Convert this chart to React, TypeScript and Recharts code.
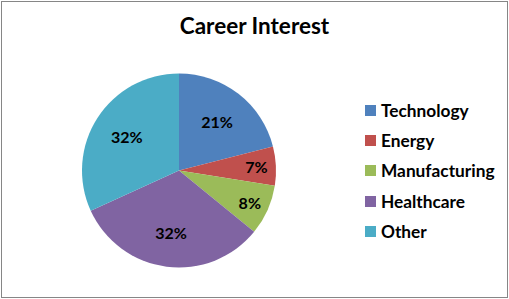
import { Cell, Legend, Pie, PieChart } from 'recharts';

const categories = ['Technology', 'Energy', 'Manufacturing', 'Healthcare', 'Other'];
const shares = [21, 6.5, 8.4, 32.3, 31.8];
const colors = ['#4f81bd', '#c0504d', '#9bbb59', '#8064a2', '#4bacc6'];

const data = categories.map((name, i) => ({ name, value: shares[i] }));

const FONT = 'Lato, "Open Sans", sans-serif';
const RAD = Math.PI / 180;

function renderLabel({ cx, cy, midAngle, outerRadius, percent }: any) {
  // small slices get their label pushed further out, like Excel's best fit
  const r = outerRadius * (percent < 0.1 ? 0.8 : 0.64);
  const x = cx + r * Math.cos(-midAngle * RAD);
  const y = cy + r * Math.sin(-midAngle * RAD);
  return (
    <text
      x={x}
      y={y}
      textAnchor="middle"
      dominantBaseline="central"
      fill="#000"
      fontFamily={FONT}
      fontWeight="bold"
      fontSize={16}
    >
      {`${Math.round(percent * 100)}%`}
    </text>
  );
}

function LegendList({ payload }: any) {
  return (
    <div style={{ fontFamily: FONT }}>
      {(payload || []).map((item: any) => (
        <div key={item.value} style={{ display: 'flex', alignItems: 'center', height: 30.3 }}>
          <span style={{ width: 11, height: 11, background: item.color, marginRight: 5 }} />
          <span style={{ fontSize: 17.3, fontWeight: 'bold', color: '#000' }}>{item.value}</span>
        </div>
      ))}
    </div>
  );
}

export default function App() {
  return (
    <div style={{ position: 'absolute', left: 0, top: 0, width: 509, height: 299, background: '#fff' }}>
      <div
        style={{
          position: 'absolute',
          left: 1,
          top: 1,
          width: 507,
          height: 297,
          boxSizing: 'border-box',
          border: '1px solid #868686'
        }}
      />
      <div
        style={{
          position: 'absolute',
          left: 0,
          top: 13,
          width: 509,
          textAlign: 'center',
          fontFamily: FONT,
          fontWeight: 'bold',
          fontSize: 22.5,
          lineHeight: '26px',
          color: '#000'
        }}
      >
        Career Interest
      </div>
      <PieChart
        width={509}
        height={299}
        margin={{ top: 0, right: 0, bottom: 0, left: 0 }}
        style={{ position: 'absolute', left: 0, top: 0 }}
      >
        <Pie
          data={data}
          dataKey="value"
          nameKey="name"
          cx={179}
          cy={170.5}
          outerRadius={97}
          startAngle={90}
          endAngle={-270}
          stroke="none"
          label={renderLabel}
          labelLine={false}
          isAnimationActive={false}
        >
          {data.map((entry, i) => (
            <Cell key={entry.name} fill={colors[i]} />
          ))}
        </Pie>
        <Legend
          layout="vertical"
          itemSorter={null as any}
          content={<LegendList />}
          wrapperStyle={{ position: 'absolute', left: 365, top: 95, width: 140 }}
        />
      </PieChart>
    </div>
  );
}
